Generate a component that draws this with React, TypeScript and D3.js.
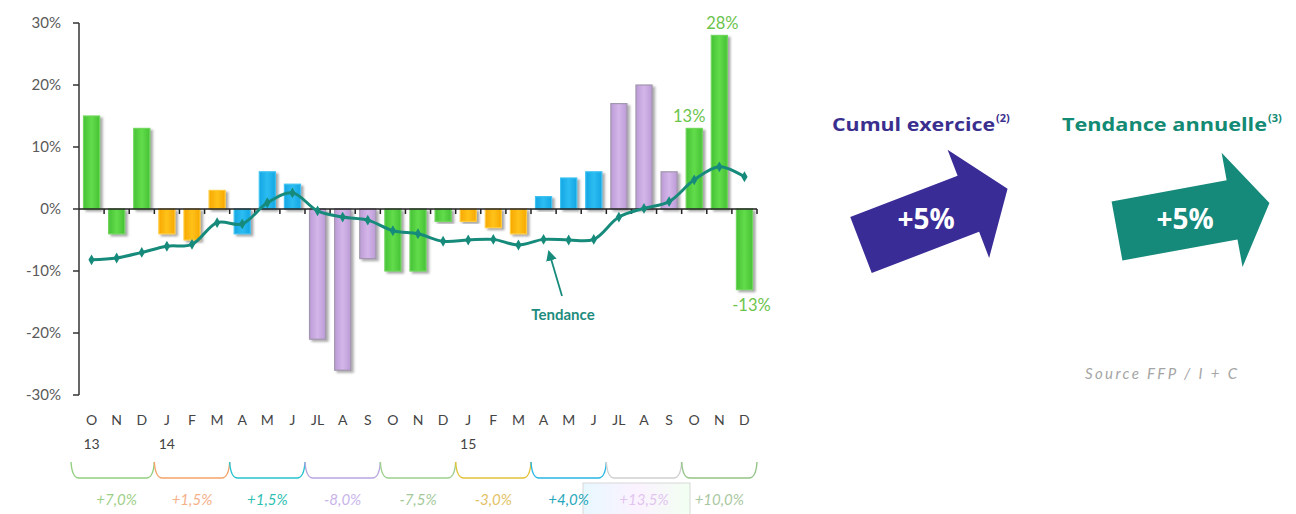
import React from "react";
import * as d3 from "d3";

const months = ["O","N","D","J","F","M","A","M","J","JL","A","S","O","N","D","J","F","M","A","M","J","JL","A","S","O","N","D"];
const yearLabels = [
  { index: 0, label: "13" },
  { index: 3, label: "14" },
  { index: 15, label: "15" },
];
const monthlyValues = [15,-4,13,-4,-5,3,-4,6,4,-21,-26,-8,-10,-10,-2,-2,-3,-4,2,5,6,17,20,6,13,28,-13];
const trendValues = [-8.2,-7.9,-7,-6,-5.7,-2.2,-2.4,1,2.6,-0.3,-1.3,-1.8,-3.5,-4,-5.2,-5,-4.9,-5.8,-4.9,-5,-4.9,-1.3,0.1,1.2,4.7,6.8,5.2];
const seasonOfMonth = ["oct","oct","oct","jan","jan","jan","apr","apr","apr","jul","jul","jul","oct","oct","oct","jan","jan","jan","apr","apr","apr","jul","jul","jul","oct","oct","oct"];
const quarterLabels = ["+7,0%","+1,5%","+1,5%","-8,0%","-7,5%","-3,0%","+4,0%","+13,5%","+10,0%"];
const quarterBraceColors = ["#93cf80","#f5a469","#27c2cf","#b8a6e2","#9dd08f","#e2c23a","#2bb7e4","#cfcfcf","#94c486"];
const quarterTextColors = ["#9dcf88","#f4b088","#2ebfb2","#c8b4ea","#a3c99a","#e3c164","#27a7bb","#e2c4f0","#a9c7a1"];
const barLabels = [
  { index: 24, text: "13%", dx: -5, pos: "top" },
  { index: 25, text: "28%", dx: 3, pos: "top" },
  { index: 26, text: "-13%", dx: 7, pos: "bottom" },
];
const yTicks = [30, 20, 10, 0, -10, -20, -30];

const seasonColors: Record<string, { fill: string; edge: string; stroke: string }> = {
  oct: { fill: "#62dc4a", edge: "#46c236", stroke: "#6fd65c" },
  jan: { fill: "#ffc21a", edge: "#f7a800", stroke: "#ffcc40" },
  apr: { fill: "#2cbdf2", edge: "#14a6e3", stroke: "#3cc2f2" },
  jul: { fill: "#d1b0e8", edge: "#b693d3", stroke: "#9b8fa8" },
};

const FONT = "Lato, 'Open Sans', sans-serif";

export default function App() {
  const x = d3.scaleBand<number>().domain(months.map((_, i) => i)).range([79, 757]).paddingInner(0.36).paddingOuter(0.18);
  const y = d3.scaleLinear().domain([-30, 30]).range([395, 23]);
  const cx = (i: number) => (x(i) as number) + x.bandwidth() / 2;
  const boundary = (i: number) => 79 + i * (678 / months.length);

  const line = d3
    .line<number>()
    .x((_, i) => cx(i))
    .y((d) => y(d))
    .curve(d3.curveCatmullRom.alpha(0.5));
  const diamond = d3.symbol().type(d3.symbolDiamond).size(34)();

  const arrowPts = (tail: number, headU: number, headHalf: number, tip: number) =>
    [[0, -tail], [headU, -tail], [headU, -headHalf], [tip, 0], [headU, headHalf], [headU, tail], [0, tail]]
      .map((p) => p.join(","))
      .join(" ");

  const braceY0 = 462;
  const braceY1 = 478;

  return (
    <svg width={1296} height={514} style={{ position: "absolute", left: 0, top: 0, background: "#fff" }}>
      <defs>
        <filter id="shadow" x="-30%" y="-10%" width="180%" height="130%">
          <feDropShadow dx="2.5" dy="2" stdDeviation="1.3" floodColor="#606060" floodOpacity="0.55" />
        </filter>
        {Object.entries(seasonColors).map(([k, c]) => (
          <linearGradient id={`g-${k}`} key={k} x1="0" x2="1" y1="0" y2="0">
            <stop offset="0" stopColor={c.edge} />
            <stop offset="0.5" stopColor={c.fill} />
            <stop offset="1" stopColor={c.edge} />
          </linearGradient>
        ))}
        <marker id="arrowhead" viewBox="0 0 10 10" refX="8" refY="5" markerWidth="6" markerHeight="6" orient="auto">
          <path d="M0,0 L10,5 L0,10 z" fill="#178b7b" />
        </marker>
        <linearGradient id="boxfade" x1="0" x2="1">
          <stop offset="0" stopColor="#e8f8ff" />
          <stop offset="0.5" stopColor="#fbf2ff" />
          <stop offset="1" stopColor="#f2fff2" />
        </linearGradient>
      </defs>

      {/* y axis */}
      <line x1={79} x2={79} y1={y(30)} y2={y(-30)} stroke="#333" strokeWidth={1.5} />
      {yTicks.map((t) => (
        <g key={t}>
          <line x1={73} x2={79} y1={y(t)} y2={y(t)} stroke="#333" strokeWidth={1.5} />
          <text x={61} y={y(t) + 5} textAnchor="end" fontFamily={FONT} fontSize={15} fill="#5a5a5a">
            {`${t}%`}
          </text>
        </g>
      ))}

      {/* bars */}
      {monthlyValues.map((v, i) => {
        const c = seasonColors[seasonOfMonth[i]];
        const top = y(Math.max(0, v));
        const h = Math.abs(y(v) - y(0));
        return (
          <rect
            key={i}
            x={x(i)}
            y={top}
            width={x.bandwidth()}
            height={h}
            fill={`url(#g-${seasonOfMonth[i]})`}
            stroke={c.stroke}
            strokeWidth={1.2}
            filter="url(#shadow)"
            opacity={seasonOfMonth[i] === "jul" ? 0.92 : 1}
          />
        );
      })}

      {/* zero axis */}
      <line x1={79} x2={757} y1={y(0)} y2={y(0)} stroke="#222" strokeWidth={1.6} />
      {months.map((_, i) => (
        <line key={i} x1={boundary(i + 1)} x2={boundary(i + 1)} y1={y(0)} y2={y(0) + 5} stroke="#222" strokeWidth={1.5} />
      ))}

      {/* trend */}
      <path d={line(trendValues) || ""} fill="none" stroke="#178b7b" strokeWidth={3} />
      {trendValues.map((v, i) => (
        <path key={i} d={diamond || ""} transform={`translate(${cx(i)},${y(v)})`} fill="#178b7b" />
      ))}
      <line x1={562} y1={296} x2={549} y2={252} stroke="#178b7b" strokeWidth={1.8} markerEnd="url(#arrowhead)" />
      <text x={563} y={320} textAnchor="middle" fontFamily={FONT} fontWeight={700} fontSize={15} fill="#1e8c7e">
        Tendance
      </text>

      {/* bar labels */}
      {barLabels.map((b) => {
        const v = monthlyValues[b.index];
        const yy = b.pos === "top" ? y(v) - 6 : y(v) + 21;
        return (
          <text key={b.index} x={cx(b.index) + b.dx} y={yy} textAnchor="middle" fontFamily={FONT} fontSize={16.5} fill="#6cc44c">
            {b.text}
          </text>
        );
      })}

      {/* month labels */}
      {months.map((m, i) => (
        <text key={i} x={cx(i)} y={425} textAnchor="middle" fontFamily={FONT} fontSize={14} fill="#444">
          {m}
        </text>
      ))}
      {yearLabels.map((yl) => (
        <text key={yl.label} x={cx(yl.index)} y={449} textAnchor="middle" fontFamily={FONT} fontSize={14} fill="#444">
          {yl.label}
        </text>
      ))}

      {/* quarter braces */}
      <rect x={583} y={483} width={107} height={34} fill="url(#boxfade)" stroke="#d8d8d8" strokeWidth={1} />
      {quarterLabels.map((q, k) => {
        const x0 = boundary(k * 3) - (k === 0 ? 8 : 0);
        const x1 = boundary(k * 3 + 3);
        const d = `M${x0},${braceY0} Q${x0 + 1},${braceY1} ${x0 + 8},${braceY1} L${x1 - 8},${braceY1} Q${x1 - 1},${braceY1} ${x1},${braceY0}`;
        return (
          <g key={k}>
            <path d={d} fill="none" stroke={quarterBraceColors[k]} strokeWidth={1.4} />
            <text
              x={(x0 + x1) / 2 + (k === 0 ? 4 : 0)}
              y={505}
              textAnchor="middle"
              fontFamily={FONT}
              fontStyle="italic"
              fontSize={15}
              fill={quarterTextColors[k]}
            >
              {q}
            </text>
          </g>
        );
      })}

      {/* right panel */}
      <text x={832} y={131} fontFamily="'Open Sans', sans-serif" fontWeight={700} fontSize={18} fill="#3a2f8e" textLength={163} lengthAdjust="spacingAndGlyphs">
        Cumul exercice
      </text>
      <text x={996} y={122} fontFamily="'Open Sans', sans-serif" fontWeight={700} fontSize={11} fill="#3a2f8e">
        (2)
      </text>
      <text x={1062} y={131} fontFamily="'Open Sans', sans-serif" fontWeight={700} fontSize={18} fill="#138a73" textLength={205} lengthAdjust="spacingAndGlyphs">
        Tendance annuelle
      </text>
      <text x={1268} y={122} fontFamily="'Open Sans', sans-serif" fontWeight={700} fontSize={11} fill="#138a73">
        (3)
      </text>

      <polygon points={arrowPts(30, 115, 58, 157)} transform="translate(861,245) rotate(-21)" fill="#3a2c97" />
      <text x={926} y={229} textAnchor="middle" fontFamily="'Open Sans', sans-serif" fontWeight={700} fontSize={28} fill="#fff">
        +5%
      </text>
      <polygon points={arrowPts(30, 117, 58, 155)} transform="translate(1117,231) rotate(-10.4)" fill="#15897a" />
      <text x={1185} y={229} textAnchor="middle" fontFamily="'Open Sans', sans-serif" fontWeight={700} fontSize={28} fill="#fff">
        +5%
      </text>

      <text x={1085} y={379} fontFamily={FONT} fontStyle="italic" fontSize={15} fill="#a5a5a5" textLength={152} lengthAdjust="spacing">
        Source FFP / I + C
      </text>
    </svg>
  );
}
